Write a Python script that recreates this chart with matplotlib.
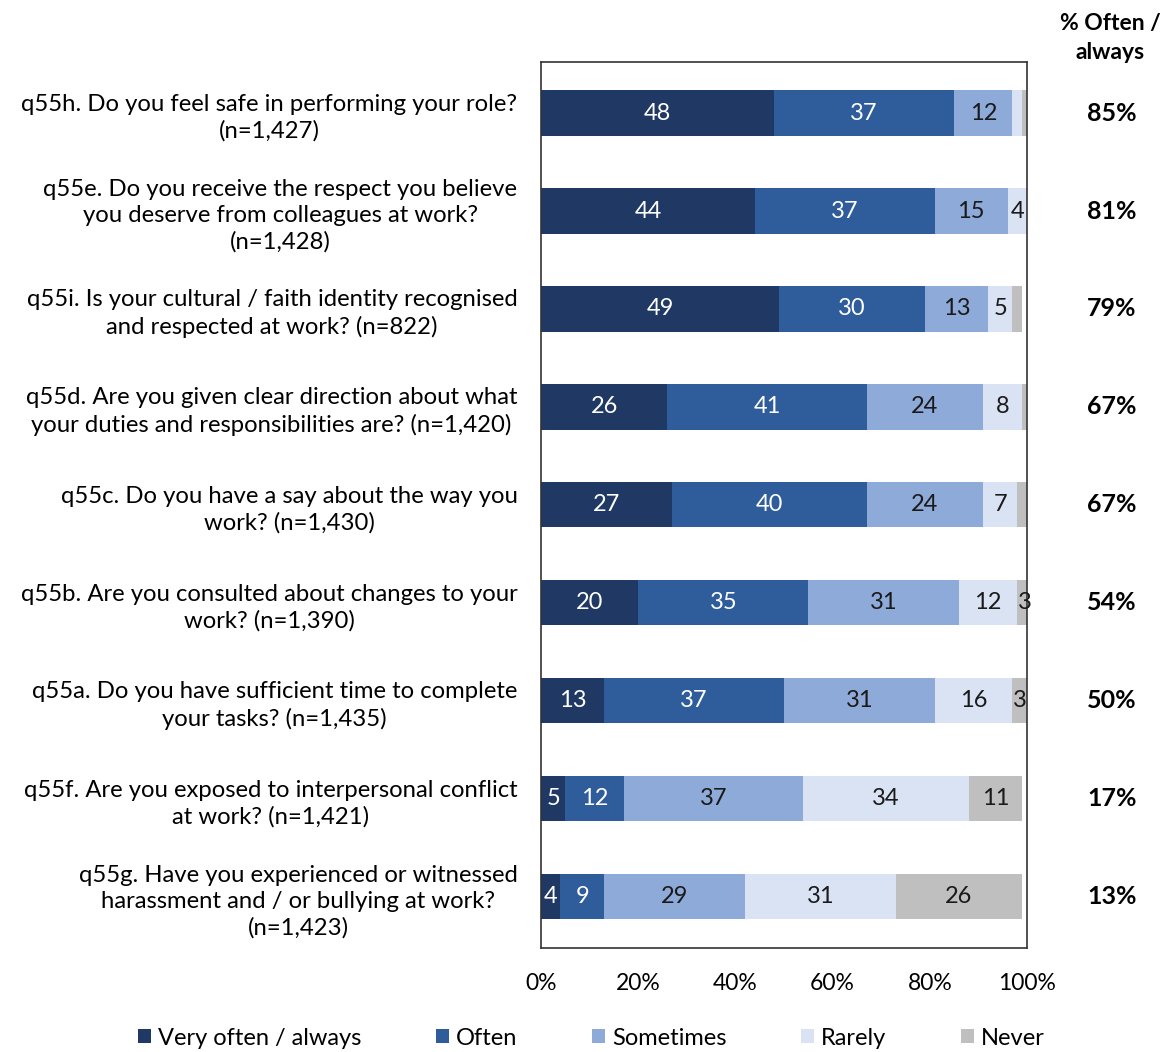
import matplotlib
matplotlib.use("Agg")
import matplotlib.pyplot as plt
import numpy as np
from matplotlib.patches import Patch

plt.rcParams['font.family'] = ['Lato', 'DejaVu Sans']

questions = [
    "q55h. Do you feel safe in performing your role?\n(n=1,427)",
    "q55e. Do you receive the respect you believe\nyou deserve from colleagues at work?\n(n=1,428)",
    "q55i. Is your cultural / faith identity recognised\nand respected at work? (n=822)",
    "q55d. Are you given clear direction about what\nyour duties and responsibilities are? (n=1,420)",
    "q55c. Do you have a say about the way you\nwork? (n=1,430)",
    "q55b. Are you consulted about changes to your\nwork? (n=1,390)",
    "q55a. Do you have sufficient time to complete\nyour tasks? (n=1,435)",
    "q55f. Are you exposed to interpersonal conflict\nat work? (n=1,421)",
    "q55g. Have you experienced or witnessed\nharassment and / or bullying at work?\n(n=1,423)",
]

categories = ["Very often / always", "Often", "Sometimes", "Rarely", "Never"]
very_often = [48, 44, 49, 26, 27, 20, 13, 5, 4]
often      = [37, 37, 30, 41, 40, 35, 37, 12, 9]
sometimes  = [12, 15, 13, 24, 24, 31, 31, 37, 29]
rarely     = [2, 4, 5, 8, 7, 12, 16, 34, 31]
never      = [1, 0, 2, 1, 2, 3, 3, 11, 26]
often_always_pct = [85, 81, 79, 67, 67, 54, 50, 17, 13]

colors = ['#203864', '#2f5c9a', '#8eaad9', '#dae3f3', '#bfbfbf']
text_colors = ['white', 'white', '#1a1a1a', '#1a1a1a', '#1a1a1a']

fig = plt.figure(figsize=(11.71, 10.52), dpi=100)
ax = fig.add_axes([0.462, 0.099, 0.415, 0.842])

series = [very_often, often, sometimes, rarely, never]
y = np.arange(len(questions))
left = np.zeros(len(questions))
for vals, c, tc in zip(series, colors, text_colors):
    vals = np.array(vals, dtype=float)
    ax.barh(y, vals, left=left, height=0.46, color=c, edgecolor='none')
    for yi, (l, v) in enumerate(zip(left, vals)):
        if v >= 3:
            ax.text(l + v / 2, yi, f"{int(v)}", ha='center', va='center',
                    fontsize=17, color=tc)
    left += vals

ax.set_xlim(0, 100)
ax.set_ylim(len(questions) - 0.48, -0.52)
ax.set_xticks(np.arange(0, 101, 20))
ax.set_xticklabels([f"{v}%" for v in range(0, 101, 20)], fontsize=16.5)
ax.set_yticks(y)
ax.set_yticklabels(questions, fontsize=17.2, linespacing=1.3)
for lab in ax.get_yticklabels():
    lab.set_multialignment('center')
ax.tick_params(axis='both', length=0)
ax.tick_params(axis='y', pad=17)
ax.tick_params(axis='x', pad=18)
for s in ax.spines.values():
    s.set_color('#333333')
    s.set_linewidth(1.2)

# % often / always column
for yi, p in enumerate(often_always_pct):
    ax.text(1.175, yi, f"{p}%", transform=ax.get_yaxis_transform(),
            ha='center', va='center', fontsize=18, fontweight='bold')
fig.text(0.948, 0.964, "% Often /\nalways", ha='center', va='center',
         fontsize=16.5, fontweight='bold', linespacing=1.45)

handles = [Patch(facecolor=c, edgecolor='none') for c in colors]
fig.legend(handles, categories, loc='lower center', bbox_to_anchor=(0.505, -0.017),
           ncol=5, frameon=False, fontsize=17, handlelength=0.55,
           handleheight=0.55, handletextpad=0.3, columnspacing=3.15)

fig.savefig('out.png', dpi=100)
